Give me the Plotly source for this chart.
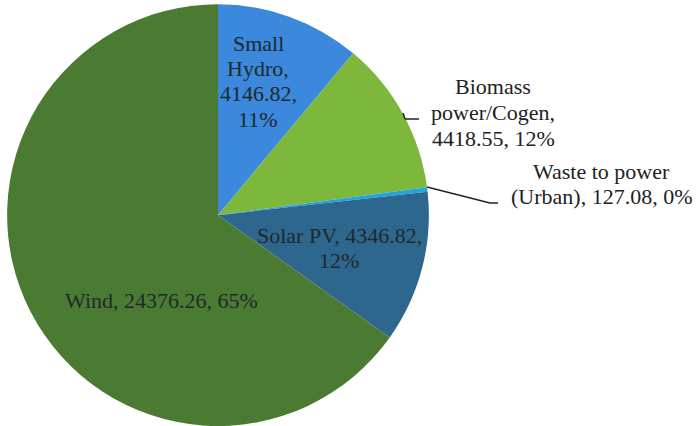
import plotly.graph_objects as go

labels = ["Small Hydro", "Biomass power/Cogen", "Waste to power (Urban)", "Solar PV", "Wind"]
values = [4146.82, 4418.55, 127.08, 4346.82, 24376.26]
colors = ["#3b88dc", "#7db83c", "#22a4e0", "#2d678e", "#4b7b32"]

# label text, split across lines as in the source
label_lines = [
    ["Small", "Hydro,", "{v},", "{p}"],
    ["Biomass", "power/Cogen,", "{v}, {p}"],
    ["Waste to power", "(Urban), {v}, {p}"],
    ["Solar PV, {v},", "{p}"],
    ["Wind, {v}, {p}"],
]
# label centre x and first-line y, in pixels from the top-left
label_xy = [(258, 43), (493, 87), (601, 171), (339, 235), (161, 300)]
inside = [True, False, False, True, True]
LINE_H = 25.5

W, H = 696, 426
total = sum(values)
FONT = "Liberation Serif, Times New Roman, serif"


def px(x, y):
    return x / W, 1 - y / H


fig = go.Figure(
    go.Pie(
        labels=labels,
        values=values,
        sort=False,
        direction="clockwise",
        rotation=0,
        marker=dict(colors=colors, line=dict(width=0)),
        textinfo="none",
        hoverinfo="label+value+percent",
        domain=dict(x=[6 / W, 430 / W], y=[0.0, 0.99]),
        showlegend=False,
    )
)

for lines, v, (x, y0), ins in zip(label_lines, values, label_xy, inside):
    pct = f"{round(v / total * 100)}%"
    for i, line in enumerate(lines):
        ax, ay = px(x, y0 + i * LINE_H)
        fig.add_annotation(
            text=line.format(v=f"{v:.2f}", p=pct),
            x=ax,
            y=ay,
            xref="paper",
            yref="paper",
            xanchor="center",
            yanchor="middle",
            showarrow=False,
            font=dict(family=FONT, size=22, color="#1d2a2c" if ins else "#222222"),
        )

# leader lines for the outside labels
leaders = [
    [(403, 113), (405, 119), (419, 119)],
    [(427, 187), (490, 203), (498, 203)],
]
for pts in leaders:
    for (x0, y0), (x1, y1) in zip(pts[:-1], pts[1:]):
        a, b = px(x0, y0)
        c, d = px(x1, y1)
        fig.add_shape(
            type="line", xref="paper", yref="paper",
            x0=a, y0=b, x1=c, y1=d,
            line=dict(color="#222222", width=1.5),
        )

fig.update_layout(
    width=W,
    height=H,
    paper_bgcolor="white",
    plot_bgcolor="white",
    margin=dict(l=0, r=0, t=0, b=0),
    font=dict(family=FONT),
)

fig.write_html(
    "out.html",
    config={"displayModeBar": False},
    post_script="document.body.style.margin='0';",
)
